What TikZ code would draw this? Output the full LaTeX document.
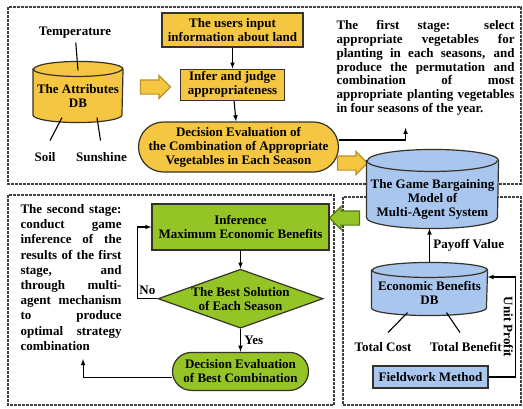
\documentclass[tikz,border=0pt]{standalone}
\usepackage{fontspec}
\setmainfont{Liberation Serif}
\usetikzlibrary{positioning,shapes.geometric,shapes.misc,shapes.arrows}
\definecolor{jaune}{RGB}{245,198,66}
\definecolor{jaunefonce}{RGB}{185,145,40}
\definecolor{vert}{RGB}{148,196,38}
\definecolor{vertfonce}{RGB}{85,125,20}
\definecolor{bleu}{RGB}{168,198,238}
\definecolor{trait}{RGB}{55,50,40}
\hyphenpenalty=10000
\tolerance=10000
\hbadness=10000
\tikzstyle{cadre}=[draw=black!75,line width=1.3pt,dash pattern=on 3pt off 1pt]
\tikzstyle{boite}=[rectangle,draw=trait,line width=1.2pt,align=center,inner sep=0pt]
\tikzstyle{ovale}=[rounded rectangle,draw=trait,line width=1.2pt,align=center,inner sep=0pt]
\tikzstyle{cylbord}=[draw=trait,line width=1.2pt]
\tikzstyle{losange}=[diamond,draw=trait,line width=1.2pt,fill=vert,inner sep=0pt]
\tikzstyle{fleche}=[single arrow,line width=1.2pt,inner sep=0pt,minimum height=30pt,single arrow head extend=4.5pt]
\tikzstyle{paragraphe}=[align=justify,inner sep=0pt,anchor=north west]
% #1 nom, #2 x, #3 y, #4 largeur, #5 hauteur, #6 demi-hauteur de l'ellipse, #7 couleur
\newcommand{\cylindre}[7]{%
  \node[minimum width=#4pt,minimum height=#5pt,inner sep=0pt] (#1) at (#2,#3) {};
  \filldraw[cylbord,fill=#7] ([yshift=-#6pt]#1.north west) -- ([yshift=#6pt]#1.south west)
    arc[start angle=180,end angle=360,x radius=#4pt/2,y radius=#6pt]
    -- ([yshift=-#6pt]#1.north east)
    arc[start angle=0,end angle=180,x radius=#4pt/2,y radius=#6pt] -- cycle;
  \draw[cylbord] ([yshift=-#6pt]#1.north west) arc[start angle=180,end angle=360,x radius=#4pt/2,y radius=#6pt];
}

\begin{document}
\begin{tikzpicture}[x=1pt,y=-1pt,>=latex,line width=1.1pt,font=\fontsize{13pt}{14pt}\selectfont\bfseries]
\useasboundingbox (0,0) rectangle (523,408);

\draw[cadre] (8,7) rectangle (521,184);
\draw[cadre] (8,195) rectangle (334,405);
\draw[cadre] (343,197) rectangle (521,405);

\node (T00) at (75,33) {Temperature};
\cylindre{C00}{78}{92}{89}{60}{7.5}{jaune}
\node[align=center] (C00t) at ([yshift=-4pt]C00) {The Attributes\\DB};
\node (S00) at (45,157) {Soil};
\node (S01) [right=13pt of S00] {Sunshine};
\node[fleche,draw=jaunefonce,fill=jaune] (F00) at (152,87) {\rule{0pt}{13pt}};
\node[boite,fill=jaune,minimum width=141pt,minimum height=34pt] (B00) at (232.5,30) {The users input\\information about land};
\node[boite,fill=jaune,minimum width=104pt,minimum height=31pt] (B10) [below=21pt of B00] {Infer and judge\\appropriateness};
\node[ovale,fill=jaune,minimum width=187pt,minimum height=50pt] (E20) at (238.5,147) {Decision Evaluation of\\the Combination of Appropriate\\Vegetables in Each Season};
\node[paragraphe,text width=178pt,font=\fontsize{13pt}{13.8pt}\selectfont\bfseries] (T01) at (336,20) {The first stage: select\linebreak appropriate vegetables for\linebreak planting in each seasons, and\linebreak produce the permutation and\linebreak combination of most\linebreak appropriate planting vegetables\linebreak in four seasons of the year.};
\node[fleche,draw=jaunefonce,fill=jaune] (F01) at (349,163) {\rule{0pt}{13pt}};
\cylindre{C01}{432.5}{189}{131}{78}{11}{bleu}
\node[align=center] (C01t) at ([yshift=-10pt]C01) {The Game Bargaining\\Model of\\Multi-Agent System};
\node[fleche,draw=vertfonce,fill=vert,shape border rotate=180] (F02) at (348,218) {\rule{0pt}{13pt}};

\draw (T00) -- ([yshift=-9pt]C00.north);
\draw ([xshift=-16pt,yshift=5pt]C00.south) -- ([xshift=5pt,yshift=8pt]S00.north);
\draw ([xshift=19pt,yshift=5pt]C00.south) -- ([xshift=-1pt,yshift=8pt]S01.north);
\draw[->] (B00) -- (B10);
\draw[->] (B10) -- (E20);
\draw[->] ([yshift=7pt]E20.east) -| ([xshift=-20pt,yshift=-12pt]T01.south);

\node[paragraphe,text width=101pt,font=\fontsize{13pt}{15.2pt}\selectfont\bfseries] (T02) at (20,204) {The second stage:\linebreak conduct game\linebreak inference of the\linebreak results of the first\linebreak stage, and\linebreak through multi-\linebreak agent mechanism\linebreak to produce\linebreak optimal strategy\linebreak combination};
\node[boite,fill=vert,minimum width=177pt,minimum height=46pt] (B20) at (240.5,227) {Inference\\Maximum Economic Benefits};
\node[losange,minimum width=165pt,minimum height=59pt,label={[align=center]center:{The Best Solution\\of Each Season}}] (D30) [below=18pt of B20] {};
\node[ovale,fill=vert,minimum width=136pt,minimum height=38pt] (E40) [below=23pt of D30] {Decision Evaluation\\of Best Combination};

\draw[->] (B20) -- (D30);
\draw[->] (D30.west) -- node[above]{No} ++(-20pt,0) |- (B20.west);
\draw[->] (D30.south) -- node[right]{Yes} (E40.north);
\draw[->] ([yshift=-6pt]E40.west) -| ([xshift=12pt,yshift=-8pt]T02.south);

\cylindre{C02}{429.5}{289}{115}{52}{7.5}{bleu}
\node[align=center] (C02t) at ([yshift=-4pt]C02) {Economic Benefits\\DB};
\node (S10) at (383,347) {Total Cost};
\node (S11) [right=11pt of S10] {Total Benefit};
\node[boite,fill=bleu,minimum width=115pt,minimum height=22pt] (B30) at (430.5,377) {Fieldwork Method};

\draw[->] (C02.north) -- node[right]{Payoff Value} (C02.north |- C01.south);
\draw ([xshift=-22pt,yshift=3pt]C02.south) -- ([xshift=5pt,yshift=6pt]S10.north);
\draw ([xshift=17pt,yshift=3pt]C02.south) -- ([xshift=-6pt,yshift=6pt]S11.north);
\draw[->] (B30.east) -- ++(27pt,0) |- node[pos=0.25,anchor=north,rotate=-90,inner sep=2pt]{Unit Profit} ([yshift=12pt]C02.east);

\end{tikzpicture}
\end{document}
